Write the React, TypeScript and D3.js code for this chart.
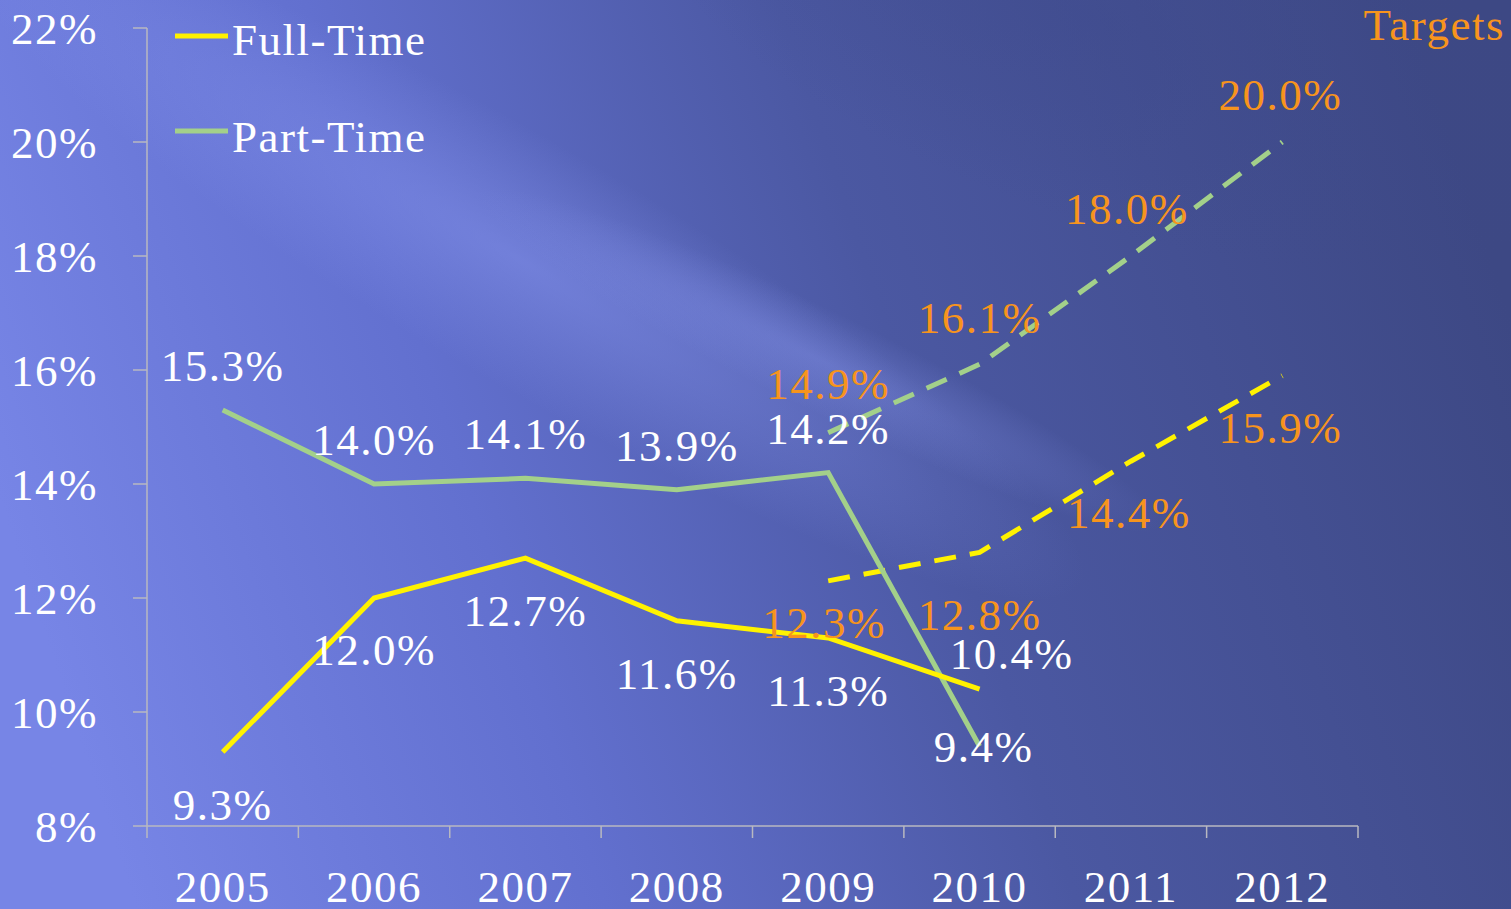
import React from "react";
import * as d3 from "d3";

const years = ["2005", "2006", "2007", "2008", "2009", "2010", "2011", "2012"];
const fullTime = [9.3, 12.0, 12.7, 11.6, 11.3, 10.4];
const partTime = [15.3, 14.0, 14.1, 13.9, 14.2, 9.4];
const fullTimeTargetYears = ["2009", "2010", "2011", "2012"];
const fullTimeTarget = [12.3, 12.8, 14.4, 15.9];
const partTimeTargetYears = ["2009", "2010", "2011", "2012"];
const partTimeTarget = [14.9, 16.1, 18.0, 20.0];
const yTicks = [8, 10, 12, 14, 16, 18, 20, 22];

const W = 1511;
const H = 909;
const FONT = "'Liberation Serif', 'DejaVu Serif', serif";
const YELLOW = "#FFF200";
const GREEN = "#A3D08A";
const ORANGE = "#F7941D";
const WHITE = "#FFFFFF";
const AXIS = "#B8B8C0";

// label offsets (dx, dy) relative to the point, in pixels
const ftLabelOff: [number, number][] = [[0, 68], [0, 67], [0, 68], [0, 68], [0, 68], [32, -20]];
const ptLabelOff: [number, number][] = [[0, -29], [0, -29], [0, -29], [0, -29], [0, -29], [4, 16]];
const ftTargetOff: [number, number][] = [[-4, 57], [0, 78], [-2, 67], [-2, 67]];
const ptTargetOff: [number, number][] = [[0, -34], [0, -31], [-4, -32], [-2, -32]];

export default function App() {
  const left = 147;
  const right = 1358;
  const x = d3.scaleBand<string>().domain(years).range([left, right]);
  const y = d3.scaleLinear().domain([8, 22]).range([826, 28]);
  const cx = (yr: string) => (x(yr) as number) + x.bandwidth() / 2;

  const line = d3
    .line<[string, number]>()
    .x((d) => cx(d[0]))
    .y((d) => y(d[1]));

  const ftPts: [string, number][] = fullTime.map((v, i) => [years[i], v]);
  const ptPts: [string, number][] = partTime.map((v, i) => [years[i], v]);
  const ftTPts: [string, number][] = fullTimeTarget.map((v, i) => [fullTimeTargetYears[i], v]);
  const ptTPts: [string, number][] = partTimeTarget.map((v, i) => [partTimeTargetYears[i], v]);

  const boundaries = years.map((yr) => x(yr) as number).concat([right]);
  const fs = 45;
  const ls = 1.5;

  const labels = (
    pts: [string, number][],
    offs: [number, number][],
    color: string,
    key: string
  ) =>
    pts.map((p, i) => (
      <text
        key={key + i}
        x={cx(p[0]) + offs[i][0]}
        y={y(p[1]) + offs[i][1]}
        fill={color}
        fontSize={fs}
        fontFamily={FONT}
        letterSpacing={ls}
        textAnchor="middle"
      >
        {p[1].toFixed(1)}%
      </text>
    ));

  return (
    <svg
      width={W}
      height={H}
      style={{ position: "absolute", left: 0, top: 0, display: "block" }}
    >
      <defs>
        <linearGradient id="bg" x1="0" y1="0.55" x2="1" y2="0.35">
          <stop offset="0" stopColor="#7785E6" />
          <stop offset="0.3" stopColor="#6270CF" />
          <stop offset="0.6" stopColor="#4B58A2" />
          <stop offset="1" stopColor="#3D4884" />
        </linearGradient>
        <radialGradient
          id="streak"
          cx="0"
          cy="0"
          r="1"
          gradientUnits="userSpaceOnUse"
          gradientTransform="translate(520 260) rotate(30) scale(650 120)"
        >
          <stop offset="0" stopColor="#8896F0" stopOpacity="0.5" />
          <stop offset="1" stopColor="#8896F0" stopOpacity="0" />
        </radialGradient>
        <radialGradient
          id="streak2"
          cx="0"
          cy="0"
          r="1"
          gradientUnits="userSpaceOnUse"
          gradientTransform="translate(820 360) rotate(26) scale(380 50)"
        >
          <stop offset="0" stopColor="#8C9AF2" stopOpacity="0.35" />
          <stop offset="1" stopColor="#8C9AF2" stopOpacity="0" />
        </radialGradient>
        <radialGradient
          id="dark"
          cx="0"
          cy="0"
          r="1"
          gradientUnits="userSpaceOnUse"
          gradientTransform="translate(1100 20) rotate(20) scale(500 200)"
        >
          <stop offset="0" stopColor="#3E4A8C" stopOpacity="0.45" />
          <stop offset="1" stopColor="#3E4A8C" stopOpacity="0" />
        </radialGradient>
      </defs>
      <rect x={0} y={0} width={W} height={H} fill="url(#bg)" />
      <rect x={0} y={0} width={W} height={H} fill="url(#dark)" />
      <rect x={0} y={0} width={W} height={H} fill="url(#streak)" />
      <rect x={0} y={0} width={W} height={H} fill="url(#streak2)" />

      {/* axes */}
      <g stroke={AXIS} strokeWidth={1.5} fill="none">
        <line x1={left} y1={y(22)} x2={left} y2={y(8)} />
        {yTicks.map((t) => (
          <line key={"yt" + t} x1={left - 14} y1={y(t)} x2={left} y2={y(t)} />
        ))}
        <line x1={left} y1={y(8)} x2={right} y2={y(8)} />
        {boundaries.map((b, i) => (
          <line key={"xt" + i} x1={b} y1={y(8)} x2={b} y2={y(8) + 12} />
        ))}
      </g>
      {yTicks.map((t) => (
        <text
          key={"yl" + t}
          x={98}
          y={y(t) + 16}
          fill={WHITE}
          fontSize={fs}
          fontFamily={FONT}
          letterSpacing={ls}
          textAnchor="end"
        >
          {t}%
        </text>
      ))}
      {years.map((yr) => (
        <text
          key={"xl" + yr}
          x={cx(yr)}
          y={902}
          fill={WHITE}
          fontSize={fs}
          fontFamily={FONT}
          letterSpacing={ls}
          textAnchor="middle"
        >
          {yr}
        </text>
      ))}

      {/* lines */}
      <path d={line(ptTPts) || ""} fill="none" stroke={GREEN} strokeWidth={5} strokeDasharray="22 14" />
      <path d={line(ftTPts) || ""} fill="none" stroke={YELLOW} strokeWidth={5} strokeDasharray="22 14" />
      <path d={line(ptPts) || ""} fill="none" stroke={GREEN} strokeWidth={5} />
      <path d={line(ftPts) || ""} fill="none" stroke={YELLOW} strokeWidth={5} />

      {/* labels */}
      {labels(ftPts, ftLabelOff, WHITE, "ftl")}
      {labels(ptPts, ptLabelOff, WHITE, "ptl")}
      {labels(ftTPts, ftTargetOff, ORANGE, "ftt")}
      {labels(ptTPts, ptTargetOff, ORANGE, "ptt")}

      {/* legend */}
      <line x1={175} y1={36} x2={228} y2={36} stroke={YELLOW} strokeWidth={5} />
      <text x={232} y={55} fill={WHITE} fontSize={fs} fontFamily={FONT} letterSpacing={ls}>
        Full-Time
      </text>
      <line x1={175} y1={131} x2={228} y2={131} stroke={GREEN} strokeWidth={5} />
      <text x={232} y={152} fill={WHITE} fontSize={fs} fontFamily={FONT} letterSpacing={ls}>
        Part-Time
      </text>

      <text x={1505} y={40} fill={ORANGE} fontSize={fs} fontFamily={FONT} letterSpacing={ls} textAnchor="end">
        Targets
      </text>
    </svg>
  );
}
